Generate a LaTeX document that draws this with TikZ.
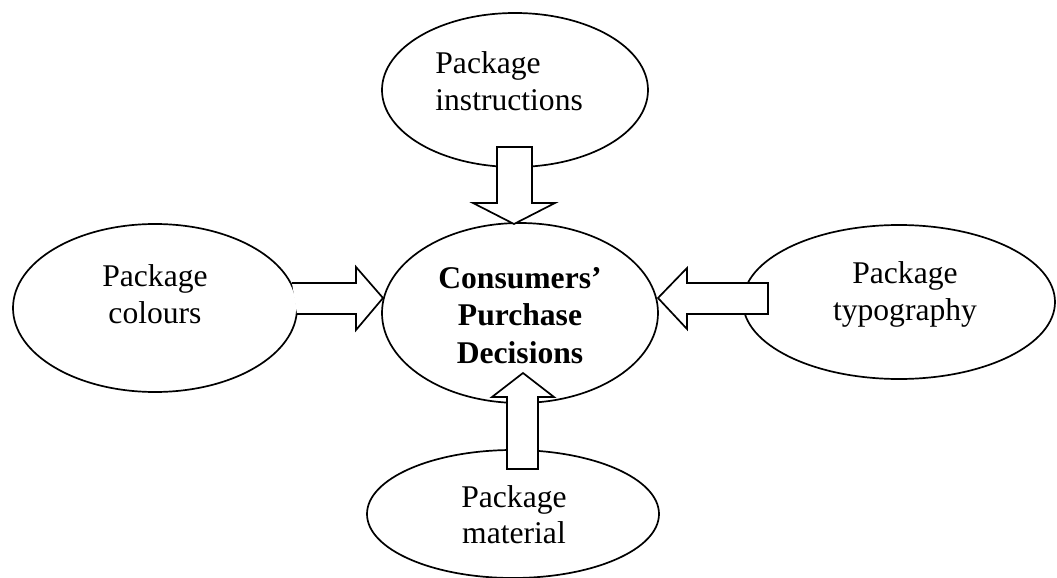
\documentclass[tikz,border=0pt]{standalone}
\usepackage{fontspec}
\setmainfont{Liberation Serif}
\usetikzlibrary{shapes.geometric}
\tikzset{
  oval/.style={draw, ellipse, line width=0.85pt, inner sep=0pt},
  lbl/.style={anchor=base, inner sep=0pt, font=\fontsize{15.8}{18.5}\selectfont},
  lblw/.style={anchor=base west, inner sep=0pt, font=\fontsize{15.8}{18.5}\selectfont},
  blk/.style={draw, fill=white, line width=0.85pt, line join=miter}
}
\begin{document}
\begin{tikzpicture}[x=0.5pt, y=-0.5pt]
\useasboundingbox (0,0) rectangle (1057,578);
% ellipses
\node[oval, minimum width=133pt, minimum height=77pt] (top) at (515,90) {};
\node[oval, minimum width=142pt, minimum height=84pt] (left) at (155,308) {};
\node[oval, minimum width=138pt, minimum height=90pt] (cen) at (520,313) {};
\node[oval, minimum width=156pt, minimum height=77pt] (right) at (899,302) {};
\node[oval, minimum width=146pt, minimum height=64pt] (bot) at (513,514) {};
% block arrows
\draw[blk] (497,147) -- (532,147) -- (532,203) -- (555,203) -- (514,224) -- (473,203) -- (497,203) -- cycle;
\draw[blk] (292,283) -- (356,283) -- (356,267) -- (383,298) -- (356,330) -- (356,314) -- (297,314);
\draw[blk] (768,283) -- (687,283) -- (687,268) -- (658,298) -- (687,329) -- (687,314) -- (768,314) -- cycle;
\draw[blk] (507,469) -- (507,397) -- (492,397) -- (523,373) -- (554,397) -- (538,397) -- (538,469) -- cycle;
% texts
\node[lblw] (t1a) at (435,73) {Package};
\node[lblw] (t1b) at (435,110) {instructions};
\node[lbl] (t2a) at (155,286) {Package};
\node[lbl] (t2b) at (155,323) {colours};
\node[lbl, font=\fontsize{15.8}{18.5}\selectfont\bfseries] (t3a) at (520,288) {Consumers’};
\node[lbl, font=\fontsize{15.8}{18.5}\selectfont\bfseries] (t3b) at (520,325) {Purchase};
\node[lbl, font=\fontsize{15.8}{18.5}\selectfont\bfseries] (t3c) at (520,363) {Decisions};
\node[lbl] (t4a) at (905,283) {Package};
\node[lbl] (t4b) at (905,320) {typography};
\node[lbl] (t5a) at (514,507) {Package};
\node[lbl] (t5b) at (514,543) {material};
\end{tikzpicture}
\end{document}
